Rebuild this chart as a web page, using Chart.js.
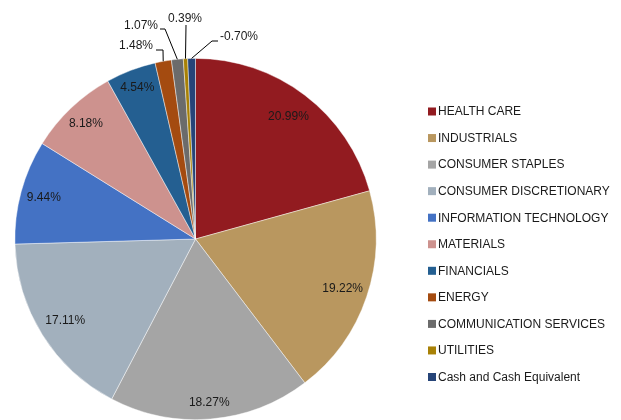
<!DOCTYPE html>
<html>
<head>
<meta charset="utf-8">
<script src="https://cdn.jsdelivr.net/npm/chart.js@4/dist/chart.umd.min.js"></script>
<style>
  html, body { margin: 0; padding: 0; background: #fff; }
  #wrap { width: 621px; height: 420px; position: relative; }
</style>
</head>
<body>
<div id="wrap"><canvas id="pie"></canvas></div>
<script>
// Sector weights
const sectors = ['HEALTH CARE', 'INDUSTRIALS', 'CONSUMER STAPLES', 'CONSUMER DISCRETIONARY',
  'INFORMATION TECHNOLOGY', 'MATERIALS', 'FINANCIALS', 'ENERGY',
  'COMMUNICATION SERVICES', 'UTILITIES', 'Cash and Cash Equivalent'];
const weights = [20.99, 19.22, 18.27, 17.11, 9.44, 8.18, 4.54, 1.48, 1.07, 0.39, -0.70];
const colors = ['#921B20', '#B9975F', '#A5A5A5', '#A2B0BD', '#4472C4', '#CD928E',
  '#245F91', '#A44B10', '#6B6B6B', '#A88106', '#264478'];

const FONT = '12px "Liberation Sans", Arial, sans-serif';
const TXT = '#1a1a1a';

// how far out (fraction of radius) the inside labels sit
const insideR = [0.85, 0.86, 0.91, 0.85, 0.87, 0.88, 0.90];

// outside labels for the thin slices: text anchor + leader bend point
const outside = {
  7: { tx: 153, ty: 46, align: 'right', bend: [[156, 50], [163, 50]] },
  8: { tx: 158, ty: 26, align: 'right', bend: [[160, 29], [165, 29]] },
  9: { tx: 185, ty: 19, align: 'center', bend: [[186, 25]] },
  10: { tx: 220, ty: 37, align: 'left', bend: [[218, 41], [212, 41]] }
};

const labelPlugin = {
  id: 'pctLabels',
  afterDatasetsDraw(chart) {
    const ctx = chart.ctx;
    const arcs = chart.getDatasetMeta(0).data;
    ctx.save();
    ctx.font = FONT;
    ctx.fillStyle = TXT;
    ctx.textBaseline = 'middle';
    arcs.forEach((arc, i) => {
      const txt = weights[i].toFixed(2) + '%';
      const mid = (arc.startAngle + arc.endAngle) / 2;
      if (outside[i]) {
        const o = outside[i];
        const ex = arc.x + Math.cos(mid) * arc.outerRadius;
        const ey = arc.y + Math.sin(mid) * arc.outerRadius;
        ctx.strokeStyle = '#000';
        ctx.lineWidth = 1;
        ctx.beginPath();
        ctx.moveTo(o.bend[0][0], o.bend[0][1]);
        o.bend.slice(1).forEach(p => ctx.lineTo(p[0], p[1]));
        ctx.lineTo(ex, ey);
        ctx.stroke();
        ctx.textAlign = o.align;
        ctx.fillText(txt, o.tx, o.ty);
      } else {
        const r = arc.outerRadius * insideR[i];
        ctx.textAlign = 'center';
        ctx.fillText(txt, arc.x + Math.cos(mid) * r, arc.y + Math.sin(mid) * r);
      }
    });

    // legend
    ctx.textAlign = 'left';
    sectors.forEach((s, i) => {
      const y = 111.5 + i * 26.55;
      ctx.fillStyle = colors[i];
      ctx.fillRect(428, y - 4, 8, 8);
      ctx.fillStyle = TXT;
      ctx.fillText(s, 438, y + 0.5);
    });
    ctx.restore();
  }
};

new Chart(document.getElementById('pie'), {
  type: 'pie',
  data: {
    labels: sectors,
    datasets: [{
      data: weights,
      backgroundColor: colors,
      borderColor: 'rgba(255,255,255,0.6)',
      borderWidth: 0.75
    }]
  },
  options: {
    responsive: true,
    maintainAspectRatio: false,
    animation: false,
    layout: { padding: { left: 14, top: 58, right: 244, bottom: 0 } },
    plugins: { legend: { display: false }, tooltip: { enabled: false } }
  },
  plugins: [labelPlugin]
});
</script>
</body>
</html>
